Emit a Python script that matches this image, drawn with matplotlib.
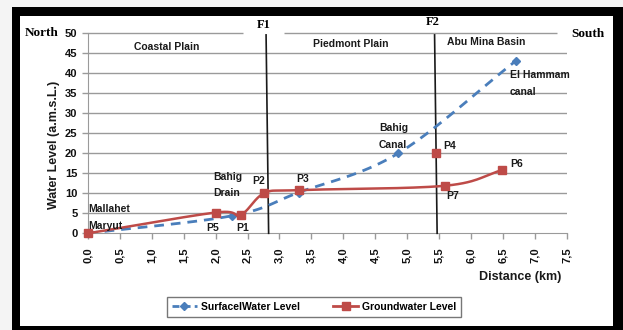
import numpy as np
import matplotlib
matplotlib.use("Agg")
import matplotlib.pyplot as plt
from matplotlib.patches import Rectangle
from matplotlib.lines import Line2D

# values
surface_x = [0.0, 2.26, 3.3, 4.86, 6.71]
surface_y = [0.0, 4.4, 10.2, 20.0, 43.2]

ground_x = [0.0, 2.0, 2.39, 2.76, 3.3, 5.6, 6.49]
ground_y = [0.0, 5.2, 4.6, 10.0, 10.8, 11.9, 15.8]
p4_x, p4_y = [5.46], [20.2]

point_names = ["P5", "P1", "P2", "P3", "P4", "P6", "P7"]
point_pos = [(1.86, 1.4), (2.32, 1.4), (2.58, 13.2), (3.26, 13.5),
             (5.57, 21.8), (6.62, 17.3), (5.62, 9.4)]

fault_names = ["F1", "F2"]
fault_top = [2.79, 5.43]
fault_bot = [2.83, 5.47]
fault_label_y = [52.1, 52.9]

x_ticks = np.arange(0, 7.51, 0.5)
y_ticks = np.arange(0, 51, 5)

BLUE = "#4A7EBB"
RED = "#BE4B48"
GRID = "#9a9a9a"
NARROW = ["Liberation Sans", "DejaVu Sans"]
SERIF = ["Liberation Serif", "DejaVu Serif"]


def smooth(xs, ys, n=30):
    # Catmull-Rom curve through the points, like Excel's smoothed line
    p = np.column_stack([xs, ys]).astype(float)
    p = np.vstack([p[0] - (p[1] - p[0]), p, p[-1] + (p[-1] - p[-2])])
    out = []
    for i in range(1, len(p) - 2):
        p0, p1, p2, p3 = p[i - 1], p[i], p[i + 1], p[i + 2]
        t = np.linspace(0, 1, n)[:, None]
        seg = 0.5 * ((2 * p1) + (-p0 + p2) * t + (2 * p0 - 5 * p1 + 4 * p2 - p3) * t ** 2
                     + (-p0 + 3 * p1 - 3 * p2 + p3) * t ** 3)
        out.append(seg)
    out = np.vstack(out)
    return out[:, 0], out[:, 1]


fig = plt.figure(figsize=(6.23, 3.30), dpi=100)
W, H = 623, 330

# black frame
fig.patches.append(Rectangle((12 / W, 0), (W - 12) / W, (H - 7) / H, transform=fig.transFigure,
                             facecolor="black", edgecolor="none", zorder=-2))
fig.patches.append(Rectangle((20 / W, 4 / H), (613 - 20) / W, (H - 16 - 4) / H,
                             transform=fig.transFigure, facecolor="white", edgecolor="none",
                             zorder=-1))

ax = fig.add_axes([88 / W, (H - 233.3) / H, (566.7 - 88) / W, (233.3 - 33.3) / H])
ax.set_facecolor("none")
ax.set_xlim(0, 7.5)
ax.set_ylim(0, 50)

for y in y_ticks[1:-1]:
    ax.axhline(y, color=GRID, lw=1, zorder=1)
# top gridline is broken where the F1 label sits
ax.hlines([50, 50], [0, 3.07], [2.43, 7.35], color=GRID, lw=1, zorder=1, clip_on=False)

for s in ["top", "right"]:
    ax.spines[s].set_visible(False)
for s in ["left", "bottom"]:
    ax.spines[s].set_color(GRID)

ax.set_xticks(x_ticks)
ax.set_xticklabels([f"{v:.1f}".replace(".", ",") for v in x_ticks], rotation=90,
                   fontsize=8, fontweight="bold", family=NARROW)
ax.set_yticks(y_ticks)
ax.set_yticklabels([str(v) for v in y_ticks], fontsize=8, fontweight="bold", family=NARROW)
ax.tick_params(axis="both", colors=GRID, labelcolor="#111111", length=4, width=1)
ax.tick_params(axis="x", pad=6)

# faults
for name, xt, xb, ly in zip(fault_names, fault_top, fault_bot, fault_label_y):
    ax.plot([xt, xb], [49.6, 0], color="#1a1a1a", lw=1.2, zorder=4, clip_on=False)
    ax.text(xt - 0.03, ly, name, ha="center", va="center", fontsize=9, fontweight="bold",
            family=SERIF, zorder=3)

sx, sy = smooth(surface_x, surface_y)
ax.plot(sx, sy, color=BLUE, lw=2, ls=(0, (3.5, 2.5)), zorder=5)
ax.plot(surface_x, surface_y, ls="none", marker="D", ms=4, color=BLUE, zorder=5)

gx, gy = smooth(ground_x, ground_y)
ax.plot(gx, gy, color=RED, lw=1.8, zorder=6, clip_on=False)
ax.plot(ground_x, ground_y, ls="none", marker="s", ms=5.2, color=RED, zorder=6, clip_on=False)
ax.plot(p4_x, p4_y, ls="none", marker="s", ms=5.2, color=RED, zorder=6)

lab = dict(fontsize=7.5, fontweight="bold", family=NARROW, color="#1a1a1a", zorder=7)
for name, (px, py) in zip(point_names, point_pos):
    ax.text(px, py, name, ha="left", va="center", **lab)

ax.text(1.24, 46.6, "Coastal Plain", ha="center", va="center", **lab)
ax.text(4.12, 47.3, "Piedmont Plain", ha="center", va="center", **lab)
ax.text(5.63, 47.8, "Abu Mina Basin", ha="left", va="center", **lab)
ax.text(6.61, 39.6, "El Hammam", ha="left", va="center", **lab)
ax.text(6.61, 35.3, "canal", ha="left", va="center", **lab)
ax.text(4.56, 26.3, "Bahig", ha="left", va="center", **lab)
ax.text(4.56, 22.0, "Canal", ha="left", va="center", **lab)
ax.text(1.96, 14.2, "Bahig", ha="left", va="center", **lab)
ax.text(1.96, 10.0, "Drain", ha="left", va="center", **lab)
ax.text(0.0, 6.2, "Mallahet", ha="left", va="center", **lab)
ax.text(0.0, 1.9, "Maryut", ha="left", va="center", **lab)

fig.text(54 / W, 1 - 145 / H, "Water Level (a.m.s.L.)", rotation=90, ha="center", va="center",
         fontsize=9, fontweight="bold", family=NARROW, color="#1a1a1a")
fig.text(520 / W, 1 - 277 / H, "Distance (km)", ha="center", va="center",
         fontsize=9, fontweight="bold", family=NARROW, color="#1a1a1a")
fig.text(42 / W, 1 - 33 / H, "North", ha="center", va="center", fontsize=9.5,
         fontweight="bold", family=SERIF)
fig.text(588 / W, 1 - 34 / H, "South", ha="center", va="center", fontsize=9.5,
         fontweight="bold", family=SERIF)

handles = [Line2D([], [], color=BLUE, lw=2, ls=(0, (2.5, 1.5)), marker="D", ms=4),
           Line2D([], [], color=RED, lw=2, marker="s", ms=5.5)]
leg = fig.legend(handles, ["SurfacelWater Level", "Groundwater Level"], ncol=2,
                 loc="center", bbox_to_anchor=(314 / W, 1 - 307 / H), frameon=True,
                 fancybox=False, edgecolor="#555555", handlelength=2.4, handletextpad=0.4,
                 columnspacing=3.2, prop=dict(family=NARROW, weight="bold", size=7.5),
                 borderpad=0.45, borderaxespad=0)
leg.get_frame().set_linewidth(1)

fig.savefig("out.png", dpi=100, facecolor="#f4f4f4")
